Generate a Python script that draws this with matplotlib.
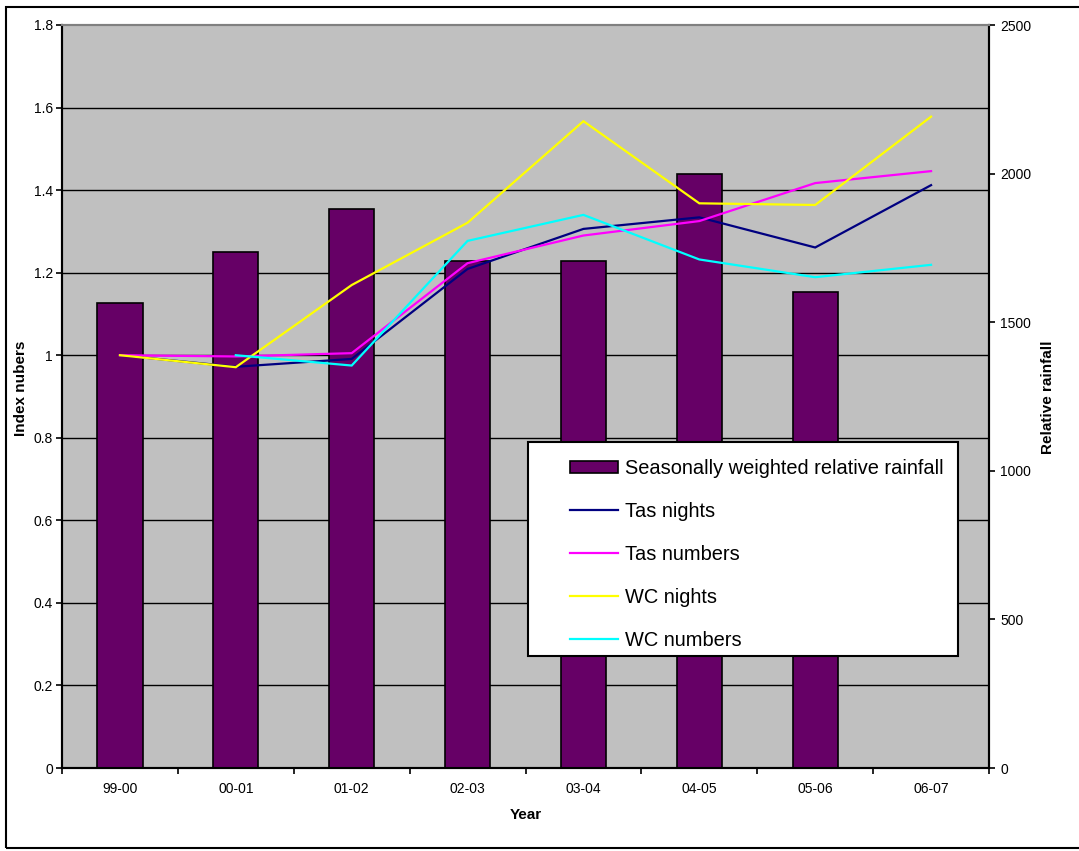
import numpy as np
import matplotlib
matplotlib.use("Agg")
import matplotlib.pyplot as plt
from matplotlib.patches import Rectangle
from matplotlib.lines import Line2D

plt.rcParams['font.family'] = ['Liberation Sans', 'DejaVu Sans']

years = ["99-00", "00-01", "01-02", "02-03", "03-04", "04-05", "05-06", "06-07"]
rainfall = [1565, 1737, 1881, 1705, 1705, 2000, 1603, np.nan]
tas_nights = [1.0, 0.972, 0.991, 1.209, 1.306, 1.334, 1.261, 1.412]
tas_numbers = [1.0, 0.997, 1.005, 1.223, 1.290, 1.325, 1.417, 1.446]
wc_nights = [1.0, 0.971, 1.170, 1.321, 1.567, 1.368, 1.364, 1.578]
wc_numbers = [np.nan, 1.0, 0.975, 1.277, 1.340, 1.232, 1.189, 1.219]

left_ticks = [0, 0.2, 0.4, 0.6, 0.8, 1, 1.2, 1.4, 1.6, 1.8]
left_tick_labels = ["0", "0.2", "0.4", "0.6", "0.8", "1", "1.2", "1.4", "1.6", "1.8"]
right_ticks = [0, 500, 1000, 1500, 2000, 2500]

W, H = 1079, 851
fig = plt.figure(figsize=(W / 100, H / 100), dpi=100)

def fx(px):
    return px / W

def fy(py):
    return 1 - py / H

L, R, T, B = 62, 989, 25, 768
ax = fig.add_axes([fx(L), fy(B), fx(R) - fx(L), fy(T) - fy(B)])
ax.set_facecolor("#C0C0C0")
ax.set_xlim(-0.5, len(years) - 0.5)
ax.set_ylim(0, 1.8)
ax.set_yticks(left_ticks)
ax.set_yticklabels(left_tick_labels)
for v in left_ticks[1:-1]:
    ax.axhline(v, color="black", lw=1.0, zorder=0.5)

ax2 = ax.twinx()
x = np.arange(len(years))
rain = np.array(rainfall, dtype=float)
mask = ~np.isnan(rain)
ax2.bar(x[mask], rain[mask], width=0.39, color="#660066", edgecolor="black",
        linewidth=1.2, zorder=2)

series = [
    (tas_nights, "#000080", "Tas nights"),
    (tas_numbers, "#FF00FF", "Tas numbers"),
    (wc_nights, "#FFFF00", "WC nights"),
    (wc_numbers, "#00FFFF", "WC numbers"),
]
for vals, col, lab in series:
    ax2.plot(x, vals, color=col, lw=1.6, transform=ax.transData, zorder=3,
             solid_joinstyle="miter")
ax2.set_ylim(0, 2500)
ax2.set_yticks(right_ticks)
ax2.set_xlim(-0.5, len(years) - 0.5)

# x axis ticks: boundaries major, labels at centers minor
ax.set_xticks(np.arange(-0.5, len(years), 1.0))
ax.set_xticklabels([])
ax.set_xticks(x, minor=True)
ax.set_xticklabels(years, minor=True)
ax.tick_params(axis="x", which="major", length=4, width=1.2, direction="out")
ax.tick_params(axis="x", which="minor", length=0, pad=10, labelsize=10)
ax.tick_params(axis="y", length=4, width=1.2, pad=2.5, labelsize=10)
ax2.tick_params(axis="y", length=4, width=1.2, pad=4, labelsize=10)

for a in (ax, ax2):
    a.spines["top"].set_color("#808080")
    a.spines["top"].set_linewidth(1.5)
    a.spines["left"].set_linewidth(1.5)
    a.spines["right"].set_linewidth(1.5)
    a.spines["bottom"].set_linewidth(1.5)

# axis labels
fig.text(fx(21), fy(388), "Index nubers", rotation=90, ha="center", va="center",
         fontsize=11, fontweight="bold")
fig.text(fx(1048), fy(397), "Relative rainfall", rotation=90, ha="center", va="center",
         fontsize=11, fontweight="bold")
fig.text(fx(526), fy(815), "Year", ha="center", va="center",
         fontsize=11, fontweight="bold")

# outer frame
fig.patches.append(Rectangle((fx(6), fy(848)), fx(1090) - fx(6), fy(7) - fy(848),
                             transform=fig.transFigure, fill=False,
                             edgecolor="black", lw=1.5, zorder=0.1))

# legend box
fig.patches.append(Rectangle((fx(528), fy(656)), fx(958) - fx(528), fy(442) - fy(656),
                             transform=fig.transFigure, facecolor="white",
                             edgecolor="black", lw=1.5, zorder=4))
handles = [Rectangle((0, 0), 1, 1, facecolor="#660066", edgecolor="black", lw=1.2)]
labels = ["Seasonally weighted relative rainfall"]
for vals, col, lab in series:
    handles.append(Line2D([0], [0], color=col, lw=1.6))
    labels.append(lab)
fig.legend(handles, labels, loc="upper left", bbox_to_anchor=(fx(560), fy(449)),
           bbox_transform=fig.transFigure, frameon=False, borderpad=0,
           fontsize=14.4, handlelength=2.4, handletextpad=0.35,
           labelspacing=1.2, handleheight=0.6)

fig.savefig("out.png", dpi=100)
